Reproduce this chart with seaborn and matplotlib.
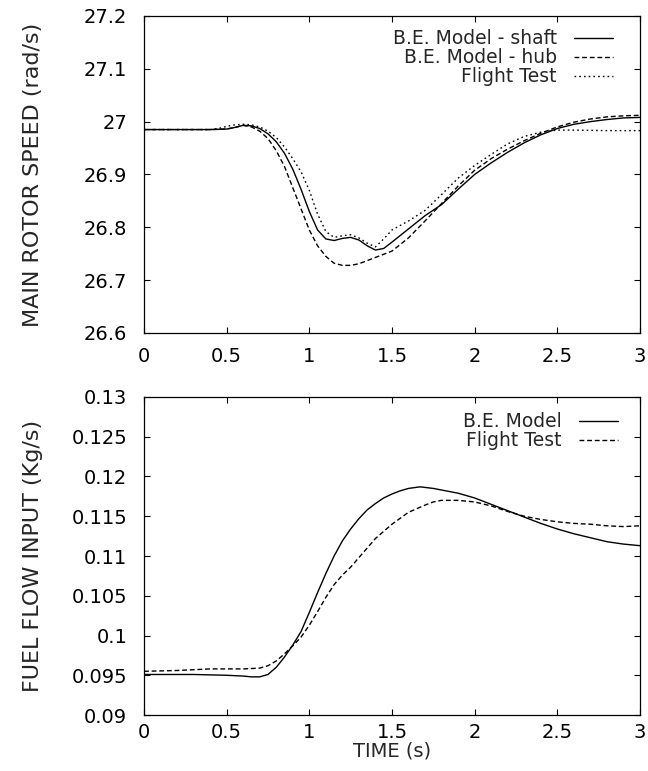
import numpy as np
import pandas as pd
import seaborn as sns
import matplotlib.pyplot as plt

# --- top panel: main rotor speed (rad/s) ---
t_shaft = [0, 0.2, 0.4, 0.5, 0.55, 0.6, 0.65, 0.7, 0.75, 0.8, 0.85, 0.9, 0.95, 1.0,
           1.05, 1.1, 1.15, 1.2, 1.25, 1.3, 1.35, 1.4, 1.45, 1.5, 1.6, 1.7, 1.8, 1.9,
           2.0, 2.1, 2.2, 2.3, 2.4, 2.5, 2.6, 2.7, 2.8, 2.9, 3.0]
v_shaft = [26.985, 26.985, 26.985, 26.986, 26.989, 26.993, 26.992, 26.987, 26.977, 26.962,
           26.94, 26.91, 26.872, 26.83, 26.795, 26.778, 26.775, 26.779, 26.781, 26.776,
           26.765, 26.757, 26.76, 26.772, 26.797, 26.822, 26.843, 26.872, 26.90, 26.922,
           26.942, 26.96, 26.975, 26.987, 26.995, 27.0, 27.004, 27.007, 27.008]

t_hub = [0, 0.4, 0.5, 0.55, 0.6, 0.65, 0.7, 0.75, 0.8, 0.85, 0.9, 0.95, 1.0, 1.05, 1.1,
         1.15, 1.2, 1.25, 1.3, 1.35, 1.4, 1.5, 1.6, 1.7, 1.8, 1.9, 2.0, 2.1, 2.2, 2.3,
         2.4, 2.5, 2.6, 2.7, 2.8, 2.9, 3.0]
v_hub = [26.985, 26.985, 26.986, 26.989, 26.993, 26.99, 26.982, 26.968, 26.945, 26.915,
         26.875, 26.835, 26.795, 26.765, 26.745, 26.732, 26.728, 26.728, 26.731, 26.737,
         26.743, 26.755, 26.78, 26.812, 26.845, 26.878, 26.908, 26.93, 26.948, 26.964,
         26.978, 26.99, 26.999, 27.005, 27.009, 27.011, 27.012]

t_flight = [0, 0.4, 0.45, 0.5, 0.55, 0.6, 0.65, 0.7, 0.75, 0.8, 0.85, 0.9, 0.95, 1.0,
            1.05, 1.1, 1.15, 1.2, 1.25, 1.3, 1.35, 1.4, 1.45, 1.5, 1.6, 1.7, 1.8, 1.9,
            2.0, 2.1, 2.2, 2.3, 2.4, 2.5, 2.6, 2.8, 3.0]
v_flight = [26.985, 26.985, 26.987, 26.991, 26.994, 26.995, 26.994, 26.99, 26.982, 26.97,
            26.952, 26.93, 26.905, 26.87, 26.825, 26.792, 26.781, 26.784, 26.786, 26.78,
            26.77, 26.763, 26.778, 26.795, 26.812, 26.832, 26.862, 26.893, 26.917, 26.938,
            26.958, 26.972, 26.98, 26.984, 26.984, 26.983, 26.983]

# --- bottom panel: fuel flow input (Kg/s) ---
t_model = [0, 0.3, 0.5, 0.6, 0.65, 0.7, 0.75, 0.8, 0.85, 0.9, 0.95, 1.0, 1.05, 1.1, 1.15,
           1.2, 1.25, 1.3, 1.35, 1.4, 1.45, 1.5, 1.55, 1.6, 1.67, 1.75, 1.8, 1.9, 2.0,
           2.1, 2.2, 2.3, 2.4, 2.5, 2.6, 2.7, 2.8, 2.9, 3.0]
v_model = [0.0951, 0.0951, 0.0950, 0.0949, 0.0948, 0.0948, 0.0951, 0.0960, 0.0973, 0.0988,
           0.1005, 0.1029, 0.1054, 0.1078, 0.1100, 0.1119, 0.1134, 0.1147, 0.1158, 0.1166,
           0.1173, 0.1178, 0.1182, 0.1185, 0.1187, 0.1185, 0.1183, 0.1179, 0.1173, 0.1165,
           0.1157, 0.1149, 0.1141, 0.1134, 0.1128, 0.1123, 0.1118, 0.1115, 0.1113]

t_test = [0, 0.2, 0.4, 0.6, 0.7, 0.75, 0.8, 0.85, 0.9, 0.95, 1.0, 1.05, 1.1, 1.15, 1.2,
          1.25, 1.3, 1.35, 1.4, 1.5, 1.6, 1.7, 1.75, 1.8, 1.9, 2.0, 2.1, 2.2, 2.3, 2.4,
          2.5, 2.6, 2.7, 2.8, 2.9, 3.0]
v_test = [0.0955, 0.0956, 0.0958, 0.0958, 0.0959, 0.0962, 0.0968, 0.0977, 0.0987, 0.0998,
          0.1013, 0.1030, 0.1048, 0.1064, 0.1076, 0.1086, 0.1098, 0.1110, 0.1122, 0.1140,
          0.1155, 0.1164, 0.1168, 0.1170, 0.1170, 0.1168, 0.1163, 0.1156, 0.1150, 0.1146,
          0.1143, 0.1141, 0.1140, 0.1138, 0.1137, 0.1138]

x_ticks = [0, 0.5, 1, 1.5, 2, 2.5, 3]
x_labels = ['0', '0.5', '1', '1.5', '2', '2.5', '3']
top_yticks = [26.6, 26.7, 26.8, 26.9, 27.0, 27.1, 27.2]
top_ylabels = ['26.6', '26.7', '26.8', '26.9', '27', '27.1', '27.2']
bot_yticks = [0.09, 0.095, 0.1, 0.105, 0.11, 0.115, 0.12, 0.125, 0.13]
bot_ylabels = ['0.09', '0.095', '0.1', '0.105', '0.11', '0.115', '0.12', '0.125', '0.13']

sns.set_style('ticks')
plt.rcParams['font.family'] = ['DejaVu Sans']
plt.rcParams['lines.scale_dashes'] = False

fig = plt.figure(figsize=(6.48, 7.71), dpi=100)
ax1 = fig.add_axes([0.2222, 0.5681, 0.7654, 0.4112])
ax2 = fig.add_axes([0.2222, 0.0726, 0.7654, 0.4125])

lw = 1.0
sns.lineplot(x=t_shaft, y=v_shaft, ax=ax1, color='k', lw=lw, label='B.E. Model - shaft')
sns.lineplot(x=t_hub, y=v_hub, ax=ax1, color='k', lw=lw, linestyle=(0, (3.5, 2)),
             label='B.E. Model - hub')
sns.lineplot(x=t_flight, y=v_flight, ax=ax1, color='k', lw=lw, linestyle=(0, (1.2, 2.2)),
             label='Flight Test')

sns.lineplot(x=t_model, y=v_model, ax=ax2, color='k', lw=lw, label='B.E. Model')
sns.lineplot(x=t_test, y=v_test, ax=ax2, color='k', lw=lw, linestyle=(0, (3.5, 2)),
             label='Flight Test')

def style_axes(ax, yticks, ylabels, ylabel, pad_x):
    ax.set_xlim(0, 3)
    ax.set_ylim(yticks[0], yticks[-1])
    ax.set_xticks(x_ticks)
    ax.set_xticklabels(x_labels)
    ax.set_yticks(yticks)
    ax.set_yticklabels(ylabels)
    ax.tick_params(direction='in', length=4, width=0.8, top=True, right=True,
                   labelsize=14, colors='k')
    ax.tick_params(axis='y', pad=12)
    ax.tick_params(axis='x', pad=pad_x)
    for s in ax.spines.values():
        s.set_visible(True)
        s.set_linewidth(0.9)
        s.set_color('k')
    ax.set_ylabel(ylabel, fontsize=16, va='center')
    ax.yaxis.set_label_coords(-0.224, 0.5)

style_axes(ax1, top_yticks, top_ylabels, 'MAIN ROTOR SPEED (rad/s)', 10)
style_axes(ax2, bot_yticks, bot_ylabels, 'FUEL FLOW INPUT (Kg/s)', 6)
ax1.set_xlabel('')
ax2.set_xlabel('TIME (s)', fontsize=14, va='top')
ax2.xaxis.set_label_coords(0.5, -0.083)

leg_kw = dict(loc='upper right', frameon=False, markerfirst=False, fontsize=13.5,
              handlelength=2.1, handletextpad=0.9, labelspacing=0.0,
              borderpad=0, borderaxespad=0)
ax1.legend(bbox_to_anchor=(0.946, 0.958), **leg_kw)
ax2.legend(bbox_to_anchor=(0.956, 0.952), **leg_kw)

fig.savefig('out.png', dpi=100)
